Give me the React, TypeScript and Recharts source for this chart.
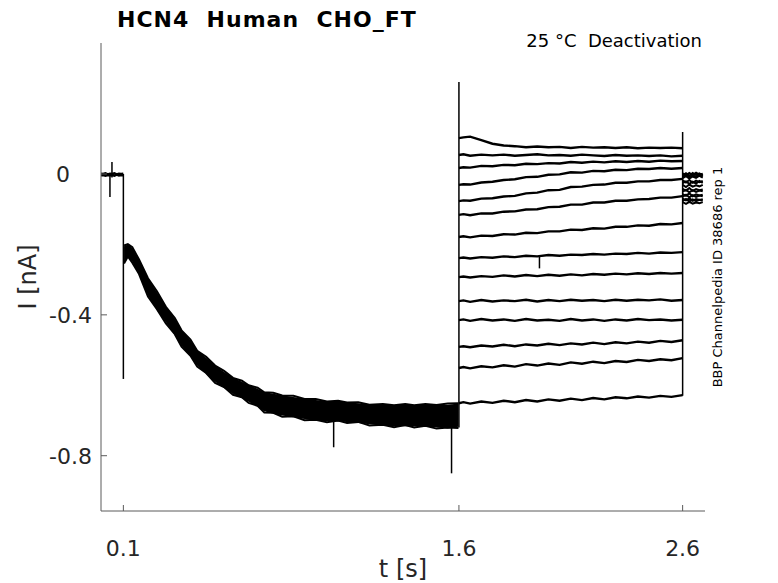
import { ComposedChart, Line, Area, XAxis, YAxis } from 'recharts'

// time axis [s] and current [nA]
const xTicks = [0.1, 1.6, 2.6]
const yTicks = [0, -0.4, -0.8]

// holding before the step
const preT = [0, 0.01, 0.02, 0.03, 0.04, 0.05, 0.06, 0.07, 0.08, 0.09, 0.1]
const preA = [0.001, 0.0, 0.002, -0.001, 0.001, 0.0, 0.002, -0.001, 0.001, 0.0, 0.001]
const preB = [-0.004, -0.003, -0.005, -0.003, -0.004, -0.003, -0.005, -0.002, -0.004, -0.003, -0.004]

// activation at -140 mV: all sweeps overlap in one band
const actT = [
  0.103, 0.12, 0.14, 0.17, 0.21, 0.25, 0.29, 0.33, 0.36, 0.4, 0.43, 0.47, 0.51, 0.55, 0.59, 0.63, 0.66, 0.7, 0.73,
  0.77, 0.81, 0.86, 0.91, 0.96, 1.01, 1.06, 1.1, 1.15, 1.2, 1.26, 1.31, 1.36, 1.4, 1.45, 1.5, 1.55, 1.598,
]
const bandHi = [
  -0.205, -0.2, -0.21, -0.245, -0.295, -0.336, -0.375, -0.412, -0.443, -0.473, -0.5, -0.522, -0.543, -0.562, -0.578,
  -0.59, -0.599, -0.61, -0.619, -0.624, -0.628, -0.633, -0.638, -0.642, -0.645, -0.647, -0.648, -0.651, -0.654,
  -0.656, -0.656, -0.656, -0.656, -0.656, -0.655, -0.655, -0.652,
]
const bandLo = [
  -0.252, -0.236, -0.249, -0.286, -0.345, -0.386, -0.421, -0.458, -0.487, -0.518, -0.544, -0.568, -0.59, -0.608,
  -0.624, -0.637, -0.647, -0.661, -0.674, -0.681, -0.686, -0.691, -0.696, -0.701, -0.702, -0.703, -0.704, -0.707,
  -0.711, -0.715, -0.716, -0.716, -0.717, -0.718, -0.72, -0.723, -0.718,
]
const edgeHi = [
  -0.203, -0.199, -0.208, -0.243, -0.296, -0.333, -0.377, -0.409, -0.444, -0.47, -0.502, -0.519, -0.544, -0.559,
  -0.579, -0.587, -0.6, -0.607, -0.62, -0.621, -0.629, -0.63, -0.639, -0.639, -0.646, -0.644, -0.649, -0.648, -0.655,
  -0.653, -0.657, -0.653, -0.657, -0.653, -0.656, -0.652, -0.651,
]
const edgeLo = [
  -0.254, -0.234, -0.252, -0.284, -0.348, -0.384, -0.424, -0.455, -0.49, -0.516, -0.547, -0.565, -0.593, -0.605,
  -0.627, -0.634, -0.65, -0.658, -0.677, -0.678, -0.689, -0.688, -0.699, -0.698, -0.705, -0.7, -0.707, -0.704, -0.714,
  -0.712, -0.719, -0.713, -0.72, -0.715, -0.723, -0.72, -0.721,
]

// deactivation steps, one sweep per row
const deactT = [1.6, 1.62, 1.65, 1.7, 1.75, 1.8, 1.85, 1.9, 1.95, 2.0, 2.05, 2.1, 2.15, 2.2, 2.25, 2.3, 2.35, 2.4, 2.45, 2.5, 2.55, 2.6]
const deact = [
  [0.102, 0.104, 0.106, 0.096, 0.086, 0.081, 0.079, 0.076, 0.078, 0.076, 0.077, 0.074, 0.077, 0.075, 0.076, 0.074, 0.076, 0.073, 0.075, 0.074, 0.075, 0.073],
  [0.054, 0.056, 0.052, 0.055, 0.053, 0.055, 0.052, 0.054, 0.056, 0.053, 0.054, 0.052, 0.055, 0.053, 0.051, 0.054, 0.052, 0.053, 0.051, 0.053, 0.05, 0.052],
  [0.017, 0.019, 0.018, 0.023, 0.022, 0.026, 0.025, 0.029, 0.028, 0.031, 0.03, 0.034, 0.032, 0.035, 0.033, 0.036, 0.034, 0.037, 0.035, 0.038, 0.036, 0.037],
  [-0.031, -0.029, -0.03, -0.024, -0.022, -0.017, -0.015, -0.009, -0.008, -0.002, -0.001, 0.005, 0.004, 0.009, 0.008, 0.012, 0.011, 0.015, 0.014, 0.017, 0.015, 0.017],
  [-0.077, -0.075, -0.076, -0.07, -0.069, -0.064, -0.062, -0.055, -0.053, -0.046, -0.045, -0.037, -0.036, -0.031, -0.03, -0.025, -0.025, -0.021, -0.021, -0.017, -0.017, -0.014],
  [-0.116, -0.114, -0.117, -0.112, -0.112, -0.107, -0.106, -0.101, -0.1, -0.094, -0.093, -0.087, -0.087, -0.081, -0.081, -0.076, -0.076, -0.072, -0.071, -0.067, -0.067, -0.063],
  [-0.179, -0.177, -0.18, -0.175, -0.176, -0.171, -0.172, -0.167, -0.168, -0.163, -0.163, -0.158, -0.159, -0.154, -0.155, -0.15, -0.15, -0.146, -0.147, -0.142, -0.143, -0.139],
  [-0.239, -0.237, -0.24, -0.236, -0.238, -0.234, -0.236, -0.232, -0.234, -0.23, -0.232, -0.229, -0.23, -0.227, -0.229, -0.226, -0.227, -0.224, -0.226, -0.223, -0.224, -0.222],
  [-0.293, -0.291, -0.294, -0.29, -0.292, -0.288, -0.291, -0.287, -0.29, -0.286, -0.289, -0.285, -0.288, -0.284, -0.286, -0.283, -0.285, -0.282, -0.284, -0.281, -0.283, -0.281],
  [-0.361, -0.359, -0.363, -0.358, -0.362, -0.359, -0.361, -0.357, -0.362, -0.358, -0.361, -0.357, -0.36, -0.358, -0.361, -0.357, -0.36, -0.357, -0.359, -0.356, -0.36, -0.358],
  [-0.415, -0.413, -0.417, -0.412, -0.416, -0.413, -0.417, -0.412, -0.416, -0.414, -0.417, -0.412, -0.416, -0.413, -0.417, -0.413, -0.416, -0.412, -0.415, -0.413, -0.416, -0.414],
  [-0.491, -0.489, -0.492, -0.487, -0.49, -0.485, -0.489, -0.484, -0.487, -0.482, -0.486, -0.481, -0.484, -0.479, -0.483, -0.478, -0.481, -0.476, -0.479, -0.474, -0.477, -0.472],
  [-0.551, -0.548, -0.552, -0.546, -0.549, -0.543, -0.547, -0.54, -0.544, -0.538, -0.542, -0.535, -0.539, -0.533, -0.537, -0.531, -0.534, -0.528, -0.531, -0.526, -0.529, -0.523],
  [-0.651, -0.648, -0.652, -0.646, -0.65, -0.644, -0.648, -0.642, -0.646, -0.64, -0.644, -0.638, -0.642, -0.636, -0.64, -0.634, -0.637, -0.632, -0.635, -0.63, -0.633, -0.628],
]

// back to holding after 2.6 s
const postT = [2.6, 2.615, 2.63, 2.645, 2.66, 2.675, 2.69]
const post = [
  [0.002, -0.004, 0.003, -0.003, 0.004, -0.002, 0.001],
  [-0.004, 0.002, -0.005, 0.003, -0.003, 0.002, -0.004],
  [-0.008, -0.002, -0.009, -0.003, -0.008, -0.001, -0.007],
  [-0.012, -0.006, -0.013, -0.007, -0.011, -0.005, -0.01],
  [-0.018, -0.024, -0.017, -0.025, -0.019, -0.023, -0.02],
  [-0.026, -0.021, -0.028, -0.022, -0.027, -0.02, -0.025],
  [-0.031, -0.037, -0.03, -0.036, -0.032, -0.035, -0.031],
  [-0.042, -0.047, -0.04, -0.048, -0.043, -0.046, -0.044],
  [-0.05, -0.045, -0.052, -0.046, -0.051, -0.047, -0.049],
  [-0.057, -0.062, -0.055, -0.063, -0.058, -0.061, -0.059],
  [-0.064, -0.059, -0.066, -0.06, -0.065, -0.061, -0.063],
  [-0.07, -0.075, -0.069, -0.076, -0.071, -0.074, -0.072],
  [-0.076, -0.071, -0.078, -0.072, -0.077, -0.073, -0.075],
  [-0.08, -0.085, -0.079, -0.084, -0.081, -0.083, -0.08],
]

// capacitive transients and glitches
const spikeT = [0.04, 0.049, 0.1, 1.04, 1.567, 1.6, 1.96, 2.6]
const spikeLo = [-0.065, -0.01, -0.582, -0.776, -0.85, -0.72, -0.268, -0.63]
const spikeHi = [0.0, 0.034, 0.0, -0.7, -0.7, 0.261, -0.235, 0.119]

const toRows = (ts: number[], vs: number[]) => ts.map((t, i) => ({ t, v: vs[i] }))
const bandRows = actT.map((t, i) => ({ t, band: [bandLo[i], bandHi[i]] }))

const FONT = '"DejaVu Sans", sans-serif'
const INK = '#262626'
const AXIS = '#5a5a5a'
const left = 101
const top = 43
const bottom = 511

function XTick({ x, payload }: any) {
  return (
    <g>
      <line x1={x} x2={x} y1={bottom} y2={bottom - 6} stroke={AXIS} />
      <text x={x} y={556} textAnchor="middle" fontSize={22} fontFamily={FONT} fill={INK}>
        {payload.value}
      </text>
    </g>
  )
}

function YTick({ y, payload }: any) {
  return (
    <g>
      <line x1={left} x2={left + 6} y1={y} y2={y} stroke={AXIS} />
      <text x={payload.value === 0 ? 70 : 92} y={y} dy={8} textAnchor="end" fontSize={22} fontFamily={FONT} fill={INK}>
        {payload.value}
      </text>
    </g>
  )
}

const line = { dot: false, isAnimationActive: false, stroke: '#000', type: 'linear' as const, dataKey: 'v' }

export default function App() {
  return (
    <div style={{ position: 'absolute', left: 0, top: 0, width: 778, height: 583, background: '#fff' }}>
      <ComposedChart width={778} height={583} data={bandRows} margin={{ top, right: 73, bottom: 583 - bottom - 1, left: left - 1 }}>
        <XAxis
          type="number"
          dataKey="t"
          domain={[0, 2.7]}
          ticks={xTicks}
          allowDataOverflow
          height={1}
          tickLine={false}
          axisLine={{ stroke: AXIS }}
          tick={<XTick />}
          interval={0}
        />
        <YAxis
          type="number"
          domain={[-0.957, 0.372]}
          ticks={yTicks}
          allowDataOverflow
          width={1}
          tickLine={false}
          axisLine={{ stroke: AXIS }}
          tick={<YTick />}
          interval={0}
        />
        <Area dataKey="band" type="linear" fill="#000" fillOpacity={1} stroke="none" isAnimationActive={false} />
        <Line {...line} data={toRows(actT, edgeHi)} strokeWidth={2} />
        <Line {...line} data={toRows(actT, edgeLo)} strokeWidth={2} />
        <Line {...line} data={toRows(preT, preA)} strokeWidth={2.4} />
        <Line {...line} data={toRows(preT, preB)} strokeWidth={2.4} />
        {deact.map((d, i) => (
          <Line key={'d' + i} {...line} data={toRows(deactT, d)} strokeWidth={2.4} />
        ))}
        {post.map((p, i) => (
          <Line key={'p' + i} {...line} data={toRows(postT, p)} strokeWidth={2} />
        ))}
        {spikeT.map((t, i) => (
          <Line key={'s' + i} {...line} data={[{ t, v: spikeLo[i] }, { t, v: spikeHi[i] }]} strokeWidth={1.5} />
        ))}
      </ComposedChart>
      <svg width={778} height={583} style={{ position: 'absolute', left: 0, top: 0, pointerEvents: 'none' }}>
        <text x={117} y={27} fontSize={22} fontWeight="bold" fontFamily={FONT} fill="#000" letterSpacing={1} style={{ whiteSpace: 'pre' }}>
          HCN4  Human  CHO_FT
        </text>
        <text x={702} y={47} fontSize={18} textAnchor="end" fontFamily={FONT} fill="#000" style={{ whiteSpace: 'pre' }}>
          25 °C  Deactivation
        </text>
        <text x={36} y={277} fontSize={24} textAnchor="middle" fontFamily={FONT} fill={INK} transform="rotate(-90 36 277)">
          I [nA]
        </text>
        <text x={403} y={577} fontSize={24} textAnchor="middle" fontFamily={FONT} fill={INK}>
          t [s]
        </text>
        <text x={722} y={277} fontSize={13} textAnchor="middle" fontFamily={FONT} fill="#000" transform="rotate(-90 722 277)">
          BBP Channelpedia ID 38686 rep 1
        </text>
      </svg>
    </div>
  )
}
